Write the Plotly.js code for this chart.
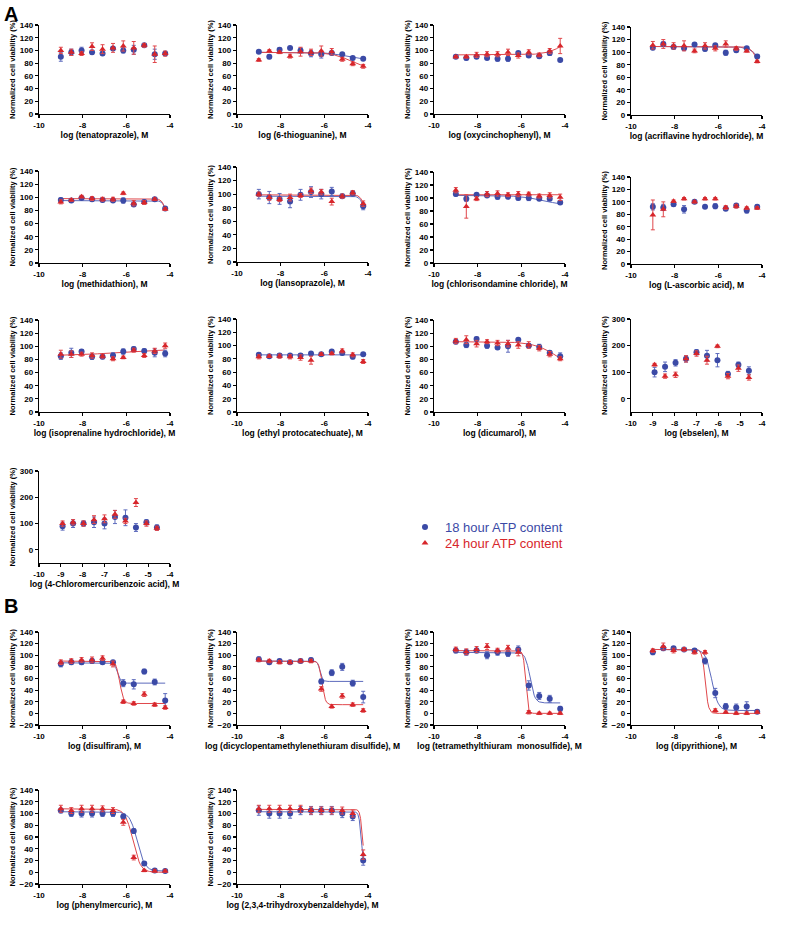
<!DOCTYPE html>
<html><head><meta charset="utf-8">
<script src="https://cdn.plot.ly/plotly-3.0.1.min.js"></script>
<style>html,body{margin:0;padding:0;background:#fff}#chart{width:791px;height:932px}</style>
</head><body><div id="chart"></div>
<script>
// ---------- DATA ----------
const compounds = ['tenatoprazole','6-thioguanine','oxycinchophenyl','acriflavine hydrochloride',
  'methidathion','lansoprazole','chlorisondamine chloride','L-ascorbic acid',
  'isoprenaline hydrochloride','ethyl protocatechuate','dicumarol','ebselen',
  '4-Chloromercuribenzoic acid',
  'disulfiram','dicyclopentamethylenethiuram disulfide','tetramethylthiuram  monosulfide','dipyrithione',
  'phenylmercuric','2,3,4-trihydroxybenzaldehyde'];
const logConc = [-9.0,-8.52,-8.05,-7.57,-7.09,-6.61,-6.14,-5.66,-5.18,-4.70,-4.22];
const logConcShort = [-8.92,-8.44,-7.96,-7.48,-7.0,-6.52,-6.04,-5.56,-5.08,-4.6];
const seriesNames = ['18 hour ATP content','24 hour ATP content'];
const xTickVals = [-10,-8,-6,-4];
const xTickText = ['-10','-8','-6','-4'];
const xTickValsFine = [-10,-9,-8,-7,-6,-5,-4];
const xTickTextFine = ['-10','-9','-8','-7','-6','-5','-4'];
const yTickValsA = [0,20,40,60,80,100,120,140];
const yTickValsWide = [0,100,200,300];
const yTickValsB = [-20,0,20,40,60,80,100,120,140];

// 18 hour ATP content (mean %)
const hour18 = [
  [90,97,100,97,95,103,100,101,108,94,95],
  [98,90,101,104,100,95,94,96,94,88,87],
  [90,88,90,88,87,87,96,92,91,96,85],
  [107,113,108,106,112,105,111,99,103,106,93],
  [96,95,99,97,96,95,95,89,93,97,83],
  [100,95,93,89,99,103,100,104,97,101,82],
  [106,99,105,104,102,102,100,100,99,99,93],
  [92,91,96,88,100,92,93,89,94,86,92],
  [85,90,92,84,84,86,92,96,93,90,89],
  [86,84,85,85,85,88,87,91,89,83,87],
  [107,102,111,101,98,100,110,101,99,90,85],
  [100,120,135,150,175,162,145,93,128,105],
  [90,100,100,105,100,125,122,85,105,85],
  [85,88,88,90,88,88,52,50,72,54,22],
  [93,88,90,88,90,92,55,70,80,52,28],
  [108,105,108,100,105,103,110,48,30,25,8],
  [105,112,112,110,108,90,35,12,10,12,3],
  [105,100,100,100,100,100,95,70,15,3,2],
  [105,100,100,100,105,105,105,105,100,95,20]
];
// 24 hour ATP content (mean %)
const hour24 = [
  [100,97,95,106,102,104,107,104,108,94,95],
  [85,99,97,91,98,97,99,98,86,79,75],
  [90,90,93,94,94,97,92,97,93,99,107],
  [111,113,110,110,102,110,106,113,106,102,85],
  [93,96,101,98,97,97,106,91,92,97,82],
  [100,95,92,95,98,105,103,89,97,102,86],
  [112,87,99,106,107,105,106,106,103,104,101],
  [79,88,101,105,100,105,105,91,93,90,90],
  [88,88,88,86,85,81,83,94,86,93,101],
  [83,84,84,83,82,78,87,88,92,86,76],
  [108,110,104,107,105,104,102,102,97,88,81],
  [128,85,90,150,170,145,197,85,115,80],
  [100,105,100,115,118,135,110,180,100,82],
  [88,90,92,92,95,85,20,17,33,15,10],
  [92,90,88,88,90,90,42,12,30,15,5],
  [110,106,110,115,108,112,105,2,0,0,0],
  [108,115,108,110,105,105,5,2,0,0,2],
  [108,105,108,108,108,105,85,25,3,2,2],
  [108,108,108,108,108,105,105,105,105,100,30]
];
// error bars (SD)
const hour18Err = [
  [7,5,5,3,2,3,4,7,2,8,3],[2,3,3,2,4,5,6,3,2,2,2],[2,3,2,2,4,4,2,3,3,4,2],[3,3,3,3,2,3,2,4,3,2,3],
  [3,3,2,3,3,2,4,3,3,2,3],[7,9,8,9,8,8,7,6,3,4,5],[3,4,2,2,4,3,3,4,2,2,3],[5,5,3,6,2,2,4,3,3,4,3],
  [5,7,3,4,3,4,4,3,3,6,5],[3,2,3,3,3,2,2,2,3,3,2],[3,4,3,4,2,9,2,3,4,3,5],[18,18,12,12,10,20,25,10,10,15],
  [15,15,10,20,20,25,30,15,10,10],
  [5,4,4,4,3,3,6,8,4,5,12],[4,3,3,3,3,3,4,5,6,5,10],[4,5,4,6,5,5,6,8,6,6,4],[4,4,3,3,3,5,8,5,6,8,3],
  [4,5,6,6,5,5,4,4,3,2,2],[8,8,8,8,7,7,7,7,7,7,8]
];
const hour24Err = [
  [5,5,3,6,7,7,8,10,3,13,4],[2,2,2,3,7,5,8,5,3,3,3],[2,2,4,4,4,5,4,4,3,4,12],[6,7,5,8,3,5,4,5,3,2,2],
  [3,2,2,3,3,3,2,4,3,2,2],[3,4,3,5,3,4,4,5,3,3,4],[4,18,3,4,4,3,4,3,3,4,5],[24,12,2,2,2,2,2,3,3,2,2],
  [6,5,3,4,3,3,2,3,3,4,4],[3,2,3,3,4,6,2,2,3,3,3],[4,6,5,3,4,5,5,5,4,4,3],[5,8,10,12,10,15,5,10,12,10],
  [10,10,10,15,15,15,10,15,10,8],
  [4,4,4,5,4,5,3,3,4,3,3],[3,3,3,3,3,3,4,3,4,3,3],[4,5,5,5,4,5,6,3,2,2,2],[3,6,4,3,3,3,3,2,2,2,2],
  [6,5,6,6,5,5,5,4,2,2,2],[6,6,6,6,6,6,6,6,6,6,8]
];
// fitted 4-parameter logistic curves: [top, bottom, logIC50, hill]; null = no curve drawn
const fit18 = [
  null,[97,85,-5.0,1],null,[109,0,-3.7,1.5],
  [95,0,-4.01,4],[97,0,-4.04,4],[104,88,-5.0,0.8],null,
  null,[86,86,-6,1],null,null,
  null,
  [87,52,-6.4,6],[90,55,-6.2,8],[105,18,-5.6,4],[110,5,-6.3,3],[103,2,-5.5,2.5],[103,5,-4.3,8]
];
const fit24 = [
  null,[97,70,-4.8,1],[93,140,-3.8,1],[109,0,-4.0,2.5],
  [98,0,-4.05,4],[99,0,-4.02,4],[105,105,-6,1],null,
  [86,95,-6.5,0.5],null,[107,60,-4.3,0.8],null,
  null,
  [90,17,-6.3,5],[90,15,-6.1,6],[108,0,-5.8,8],[110,0,-6.6,6],[108,0,-5.7,2.5],[107,10,-4.25,8]
];

// ---------- LAYOUT GEOMETRY (pixels) ----------
const W = 791, H = 932;
const colX = [39,237,434,631];
const axW = 131;
const panelCol = [0,1,2,3, 0,1,2,3, 0,1,2,3, 0, 0,1,2,3, 0,1];
const panelTop = [25,25,25,27, 171,167,172,177, 320,319,320,319, 471, 632,632,632,632, 790,790];
const panelBot = [114,114,114,115, 263,262,263,264, 412,412,412,412, 563, 725,725,725,725, 884,884];

const BLUE = '#3b4aa6', RED = '#d7262b';
const BLUE_L = '#5d6bbd', RED_L = '#e0474b';
const FONT = 'Liberation Sans, Arial, sans-serif';

function curve(p, xs) {
  const out = {x: [], y: []};
  const a = xs[0], b = xs[xs.length-1];
  const n = 80;
  for (let i = 0; i <= n; i++) {
    const x = a + (b - a) * i / n;
    out.x.push(x);
    out.y.push(p[1] + (p[0] - p[1]) / (1 + Math.pow(10, (x - p[2]) * p[3])));
  }
  return out;
}

const traces = [];
const legCommon = {x: 405/W, xanchor: 'left', yanchor: 'middle',
  font: {family: FONT, size: 13}, bgcolor: 'rgba(0,0,0,0)', itemwidth: 30};
const layout = {
  width: W, height: H, margin: {l:0,r:0,t:0,b:0},
  paper_bgcolor: '#fff', plot_bgcolor: 'rgba(0,0,0,0)',
  font: {family: FONT, color: '#000'},
  showlegend: true,
  legend: Object.assign({y: 1 - 527/H}, legCommon),
  legend2: Object.assign({y: 1 - 543/H}, legCommon),
  annotations: [
    {text: '<b>A</b>', x: 2/W, y: 1 - 1/H, xref: 'paper', yref: 'paper', xanchor: 'left', yanchor: 'top', showarrow: false, font: {size: 20, family: FONT}},
    {text: '<b>B</b>', x: 2/W, y: 1 - 593/H, xref: 'paper', yref: 'paper', xanchor: 'left', yanchor: 'top', showarrow: false, font: {size: 20, family: FONT}}
  ]
};

compounds.forEach((name, i) => {
  const n = i + 1;
  const xs = hour18[i].length === 10 ? logConcShort : logConc;
  const wide = (i === 11 || i === 12);
  const secB = i >= 13;
  const xk = 'x' + (n === 1 ? '' : n), yk = 'y' + (n === 1 ? '' : n);
  const x0 = colX[panelCol[i]];
  const axCommon = {
    showline: true, linecolor: '#000', linewidth: 1.2, ticks: 'outside', ticklen: 3, tickwidth: 1.2, tickcolor: '#000',
    showgrid: false, zeroline: false, automargin: false, fixedrange: true,
    tickfont: {family: FONT, size: 8, weight: 'bold', color: '#000'}
  };
  layout['xaxis' + (n === 1 ? '' : n)] = Object.assign({}, axCommon, {
    domain: [x0 / W, (x0 + axW) / W], range: [-10, -4], anchor: yk,
    tickvals: wide ? xTickValsFine : xTickVals, ticktext: wide ? xTickTextFine : xTickText,
    title: {text: '<b>log (' + name + '), M</b>', font: {family: FONT, size: 8.5}, standoff: 2}
  });
  layout['yaxis' + (n === 1 ? '' : n)] = Object.assign({}, axCommon, {
    domain: [1 - panelBot[i] / H, 1 - panelTop[i] / H],
    range: wide ? [-50, 300] : (secB ? [-20, 140] : [0, 140]), anchor: xk,
    tickvals: wide ? yTickValsWide : (secB ? yTickValsB : yTickValsA),
    title: {text: '<b>Normalized cell viability (%)</b>', font: {family: FONT, size: 7.5}, standoff: 3}
  });
  [[fit18[i], BLUE_L], [fit24[i], RED_L]].forEach(([p, c]) => {
    if (!p) return;
    const cv = curve(p, xs);
    traces.push({x: cv.x, y: cv.y, xaxis: xk, yaxis: yk, mode: 'lines', line: {color: c, width: 1}, showlegend: false, hoverinfo: 'skip'});
  });
  const leg = (i === 12);
  traces.push({x: xs, y: hour18[i], xaxis: xk, yaxis: yk, mode: 'markers', type: 'scatter',
    name: '<span style="color:' + BLUE + '">' + seriesNames[0] + '</span>', showlegend: leg, legend: 'legend',
    marker: {symbol: 'circle', size: 6, color: BLUE},
    error_y: {type: 'data', array: hour18Err[i], color: BLUE_L, thickness: 1, width: 2}});
  traces.push({x: xs, y: hour24[i], xaxis: xk, yaxis: yk, mode: 'markers', type: 'scatter',
    name: '<span style="color:' + RED + '">' + seriesNames[1] + '</span>', showlegend: leg, legend: 'legend2',
    marker: {symbol: 'triangle-up', size: 6, color: RED},
    error_y: {type: 'data', array: hour24Err[i], color: RED_L, thickness: 1, width: 2}});
});

Plotly.newPlot('chart', traces, layout, {staticPlot: true});
</script></body></html>
